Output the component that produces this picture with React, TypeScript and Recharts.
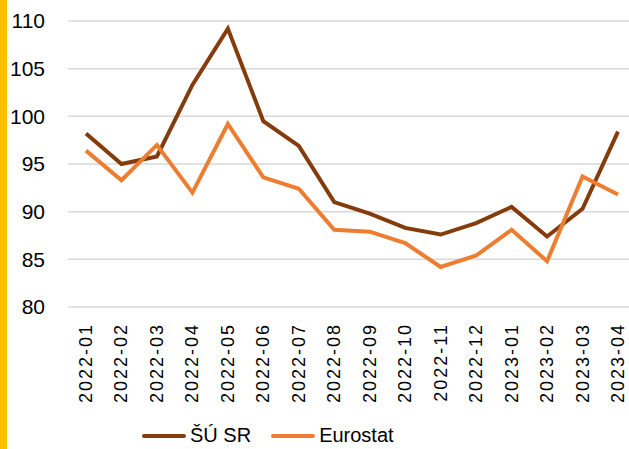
import { CartesianGrid, Line, LineChart, XAxis, YAxis } from "recharts";

const months = [
  "2022-01", "2022-02", "2022-03", "2022-04", "2022-05", "2022-06",
  "2022-07", "2022-08", "2022-09", "2022-10", "2022-11", "2022-12",
  "2023-01", "2023-02", "2023-03", "2023-04",
];
const suSr = [98.2, 95.0, 95.8, 103.3, 109.2, 99.5, 96.9, 91.0, 89.8, 88.3, 87.6, 88.8, 90.5, 87.4, 90.3, 98.4];
const eurostat = [96.4, 93.3, 97.0, 92.0, 99.2, 93.6, 92.4, 88.1, 87.9, 86.7, 84.2, 85.4, 88.1, 84.8, 93.7, 91.8];
const yTicks = [80, 85, 90, 95, 100, 105, 110];

const SU_COLOR = "#843C0C";
const EU_COLOR = "#ED7D31";
const FONT = "'Liberation Sans', Arial, sans-serif";

const data = months.map((m, i) => ({ month: m, su: suSr[i], eu: eurostat[i] }));

function MonthTick({ x, y, payload }: { x?: number; y?: number; payload?: { value: string } }) {
  return (
    <text
      x={0}
      y={0}
      transform={`translate(${x},${y}) rotate(-90)`}
      textAnchor="end"
      dominantBaseline="central"
      fontSize={18}
      letterSpacing={2}
      fill="#000"
      fontFamily={FONT}
    >
      {payload?.value}
    </text>
  );
}

export default function App() {
  return (
    <div
      style={{
        position: "fixed",
        left: 0,
        top: 0,
        width: 629,
        height: 449,
        overflow: "hidden",
        background: "#fff",
      }}
    >
      <div style={{ position: "absolute", left: 0, top: 0, width: 7, height: 449, background: "#FFC000" }} />
      <LineChart
        width={645}
        height={449}
        data={data}
        margin={{ top: 21, right: 9, bottom: 42, left: 8 }}
      >
        <CartesianGrid horizontal vertical={false} stroke="#D9D9D9" strokeWidth={1.5} />
        <XAxis
          dataKey="month"
          axisLine={false}
          tickLine={false}
          tickSize={0}
          tickMargin={16}
          height={100}
          interval={0}
          padding={{ left: 18, right: 18 }}
          tick={<MonthTick />}
        />
        <YAxis
          domain={[80, 110]}
          ticks={yTicks}
          axisLine={false}
          tickLine={false}
          tickSize={0}
          tickMargin={23}
          width={60}
          tick={{ fontSize: 21, fill: "#000", fontFamily: FONT }}
        />
        <Line
          dataKey="su"
          name="ŠÚ SR"
          stroke={SU_COLOR}
          strokeWidth={4}
          dot={false}
          isAnimationActive={false}
        />
        <Line
          dataKey="eu"
          name="Eurostat"
          stroke={EU_COLOR}
          strokeWidth={4}
          dot={false}
          isAnimationActive={false}
        />
      </LineChart>
      <div
        style={{
          position: "absolute",
          left: 142,
          top: 424,
          display: "flex",
          alignItems: "center",
          fontFamily: FONT,
          fontSize: 20,
          color: "#000",
        }}
      >
        <span style={{ display: "inline-block", width: 44, height: 4, borderRadius: 2, background: SU_COLOR }} />
        <span style={{ marginLeft: 4 }}>ŠÚ SR</span>
        <span style={{ display: "inline-block", width: 44, height: 4, borderRadius: 2, background: EU_COLOR, marginLeft: 20 }} />
        <span style={{ marginLeft: 4 }}>Eurostat</span>
      </div>
    </div>
  );
}
